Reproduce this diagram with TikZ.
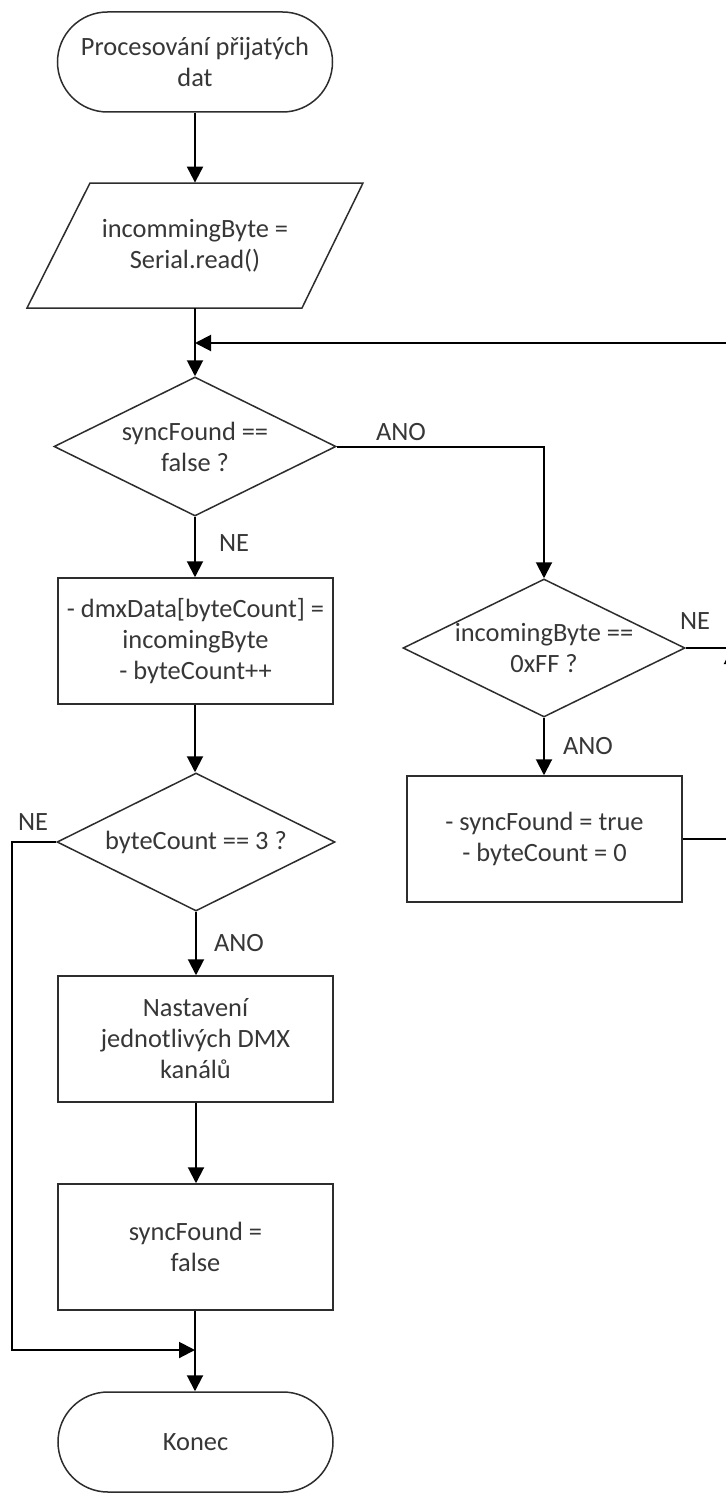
\documentclass[tikz,border=0pt]{standalone}
\usepackage{fontspec}
\setmainfont{Carlito}
\usetikzlibrary{shapes.geometric,shapes.misc,arrows.meta}
\definecolor{inkgray}{RGB}{55,55,55}
\definecolor{edgegray}{RGB}{45,45,45}
\tikzset{
  txt/.style={text=inkgray, font=\fontsize{13.2}{15.5}\selectfont, align=center, inner sep=0pt},
  outline/.style={draw=edgegray, line width=0.75pt, fill=white},
  terminal/.style={outline, txt, rounded rectangle, minimum width=137.5pt, minimum height=50pt},
  process/.style={outline, txt, rectangle, minimum width=137.5pt, minimum height=63pt},
  decision/.style={outline, diamond, inner sep=0pt},
  iobox/.style={txt, rectangle, minimum width=100pt, minimum height=62.5pt},
  tag/.style={txt},
  link/.style={line width=1pt, draw=black},
  flow/.style={link, -{Triangle[length=8pt,width=8pt]}},
}
\begin{document}
\begin{tikzpicture}[x=0.5pt, y=-0.5pt]
  \useasboundingbox (0,0) rectangle (726,1493);
  \fill[white] (0,0) rectangle (726,1493);
  \clip (0,0) rectangle (726,1493);

  % main column
  \node[terminal] (start) at (195,62) {Procesování přijatých\\dat};
  \draw[outline] (90,183) -- (363,183) -- (302,308) -- (27,308) -- cycle;
  \node[iobox] (read) at (195,245.5) {incommingByte =\\Serial.read()};
  \coordinate (merge) at (195,343);
  \node[decision, minimum width=141pt, minimum height=69.5pt,
        label={[txt]center:syncFound ==\\false ?}] (sync) at (195,446.5) {};
  \node[process] (store) at (195.5,641) {- dmxData[byteCount] =\\incomingByte\\- byteCount++};
  \node[decision, minimum width=139pt, minimum height=69pt,
        label={[txt]center:byteCount == 3 ?}] (count) at (196,842) {};
  \node[process] (setdmx) at (195.5,1039) {Nastavení\\jednotlivých DMX\\kanálů};
  \node[process] (reset) at (195.5,1247) {syncFound =\\false};
  \coordinate (join) at (195,1350);
  \node[terminal] (end) at (195.5,1442) {Konec};

  % sync branch
  \node[decision, minimum width=141pt, minimum height=69pt,
        label={[txt]center:incomingByte ==\\0xFF ?}] (ff) at (544,648) {};
  \node[process] (syncset) at (544.5,839) {- syncFound = true\\- byteCount = 0};

  % side rails
  \coordinate (railL) at (12,0);
  \coordinate (railR) at (732,0);

  % connectors
  \draw[flow] (start.south) -- (start.south |- read.north);
  \draw[link] (read.south) -- (merge);
  \draw[flow] (merge) -- (sync.north);
  \draw[flow] (sync.south) -- (sync.south |- store.north);
  \draw[flow] (store.south -| sync.south) -- (count.north -| sync.south);
  \draw[flow] (count.south) -- (count.south |- setdmx.north);
  \draw[flow] (setdmx.south -| count.south) -- (reset.north -| count.south);
  \draw[link] (reset.south -| join) -- (join);
  \draw[flow] (join) -- (join |- end.north);
  \draw[flow] (count.west) -- (count.west -| railL) -- (railL |- join) -- (join);
  \draw[flow] (sync.east) -| (ff.north);
  \draw[flow] (ff.south) -- (ff.south |- syncset.north);
  \draw[flow] (syncset.east) -- (syncset.east -| railR) -- (railR |- ff.east);
  \draw[flow] (ff.east) -- (ff.east -| railR) -- (railR |- merge) -- (merge);

  % branch labels
  \node[tag] (yes1) at (401,432) {ANO};
  \node[tag] (no1) at (234,543) {NE};
  \node[tag] (no2) at (695,621) {NE};
  \node[tag] (yes2) at (588,746) {ANO};
  \node[tag] (yes3) at (239,943) {ANO};
  \node[tag] (no3) at (33,822) {NE};
\end{tikzpicture}
\end{document}
